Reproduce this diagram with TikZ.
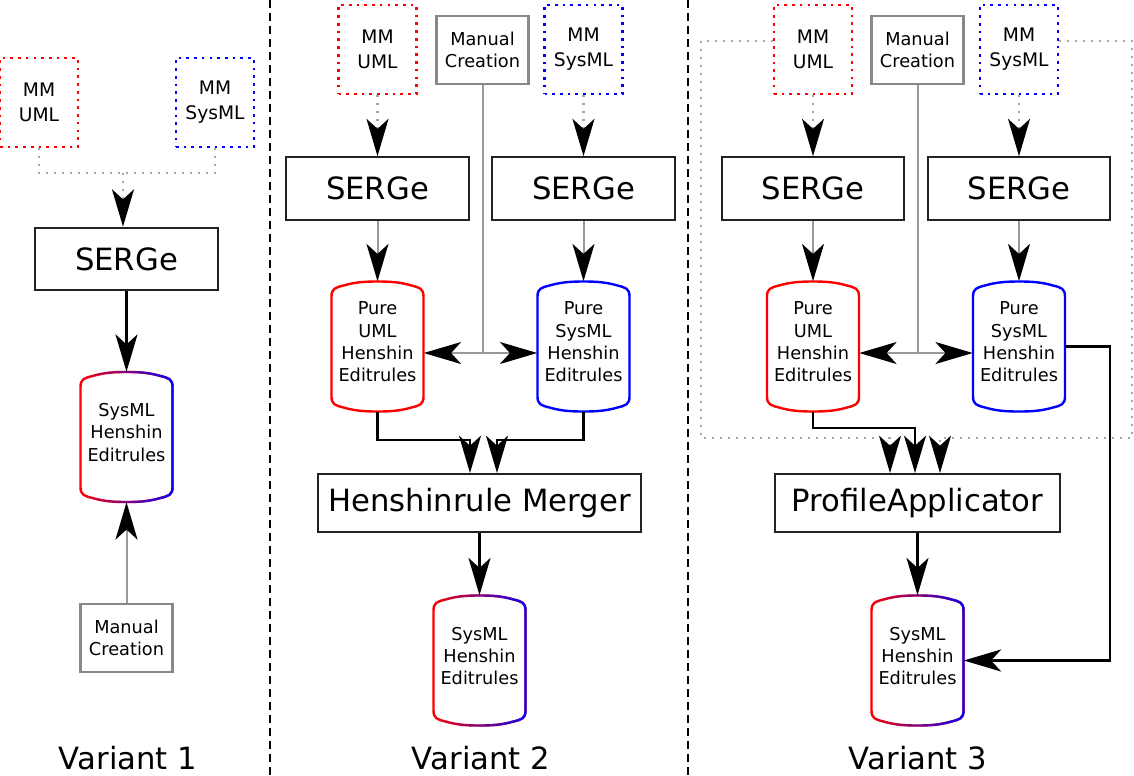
\documentclass[tikz,border=0pt]{standalone}
\usepackage{fontspec}
\setmainfont{DejaVu Sans}
\usetikzlibrary{arrows.meta,fadings}
\definecolor{lgray}{RGB}{153,153,153}
\definecolor{dotgray}{RGB}{165,165,165}
\definecolor{mgray}{RGB}{136,136,136}
\definecolor{boxline}{RGB}{34,34,34}
\tikzfading[name=fadetoeast, left color=transparent!100, right color=transparent!0]

\begin{document}
\begin{tikzpicture}[x=0.75pt, y=-0.75pt,
    mmbox/.style={draw, line width=2pt, dash pattern=on 2pt off 3.8pt, minimum width=58.5pt,
                  minimum height=66.75pt, align=center, font=\fontsize{14}{18.75}\selectfont},
    manual/.style={draw=mgray, line width=1.6pt, minimum width=69pt, minimum height=51pt,
                   align=center, font=\fontsize{13.3}{16.5}\selectfont},
    tool/.style={draw=boxline, line width=1.5pt, minimum width=137pt, minimum height=47pt,
                 font=\fontsize{23}{27}\selectfont},
    store/.style={minimum width=69pt, minimum height=97.5pt, inner sep=0pt, align=center,
                  text depth=7pt, font=\fontsize{13.3}{16.7}\selectfont},
    variant/.style={font=\fontsize{23}{27}\selectfont},
    arr/.style={-{Stealth[length=28pt, width=16.5pt, inset=7.5pt, color=black]}},
    bline/.style={line width=1.8pt, black},
    gline/.style={line width=1.5pt, lgray},
    dline/.style={line width=1.6pt, dotgray, dash pattern=on 1.6pt off 4.4pt},
    pics/storeline/.style={code={
        \draw[line width=1.8pt, #1] (-46,50) -- (-46,-50)
          .. controls (-46,-58) and (-42,-59) .. (-34,-61) .. controls (-22,-64.5) and (-12,-65) .. (0,-65)
          .. controls (12,-65) and (22,-64.5) .. (34,-61) .. controls (42,-59) and (46,-58) .. (46,-50)
          -- (46,50)
          .. controls (46,58) and (42,59) .. (34,61) .. controls (22,64.5) and (12,65) .. (0,65)
          .. controls (-12,65) and (-22,64.5) .. (-34,61) .. controls (-42,59) and (-46,58) .. (-46,50) -- cycle;
    }}
]
\useasboundingbox (0,0) rectangle (1134,775);

% dividers
\draw[line width=1.5pt, dash pattern=on 6pt off 3.75pt] (270,0) -- (270,775);
\draw[line width=1.5pt, dash pattern=on 6pt off 3.75pt] (688,0) -- (688,775);

% Variant 1
\node[mmbox, draw=red] (mu1) at (39,102.5) {MM\\UML};
\node[mmbox, draw=blue] (ms1) at (215,102.5) {MM\\SysML};
\node[tool] (se1) at (126.5,259) {SERGe};
\node[store] (sy1) at (126.5,437) {SysML\\Henshin\\Editrules};
\node[manual] (mc1) at (126.5,638) {Manual\\Creation};
\node[variant] (v1) at (128,758) {Variant 1};
\coordinate (j1) at (123,173);
\pic at (sy1) {storeline=red};
\pic at (sy1) {storeline={blue, path fading=fadetoeast}};

\draw[dline] (mu1.south) |- (j1) -| (ms1.south);
\draw[dline, arr] (j1) -- (j1 |- se1.north);
\draw[bline, arr] (se1) -- (sy1);
\draw[gline, arr] (mc1) -- (sy1);

% Variant 2
\node[mmbox, draw=red] (mu2) at (377.5,49.5) {MM\\UML};
\node[manual] (mc2) at (482.5,50) {Manual\\Creation};
\node[mmbox, draw=blue] (ms2) at (583.5,49.5) {MM\\SysML};
\node[tool] (se2a) at (377.5,188.5) {SERGe};
\node[tool] (se2b) at (583.5,188.5) {SERGe};
\node[store] (pu2) at (377.5,346.5) {Pure\\UML\\Henshin\\Editrules};
\node[store] (ps2) at (583.5,346.5) {Pure\\SysML\\Henshin\\Editrules};
\node[tool, minimum width=242pt, minimum height=43.5pt] (me2) at (479.5,503) {Henshinrule Merger};
\node[store] (sy2) at (479.5,660.5) {SysML\\Henshin\\Editrules};
\node[variant] (v2) at (481,758) {Variant 2};
\coordinate (j2) at (482.5,353);
\pic at (pu2) {storeline=red};
\pic at (ps2) {storeline=blue};
\pic at (sy2) {storeline=red};
\pic at (sy2) {storeline={blue, path fading=fadetoeast}};

\draw[dline, arr] (mu2) -- (se2a);
\draw[dline, arr] (ms2) -- (se2b);
\draw[gline, arr] (se2a) -- (pu2);
\draw[gline, arr] (se2b) -- (ps2);
\draw[gline] (mc2) -- (j2);
\draw[gline, arr] (j2) -- (j2 -| pu2.east);
\draw[gline, arr] (j2) -- (j2 -| ps2.west);
\draw[bline, arr] (pu2.south) -- ++(0,28) -| (me2.north -| 470,0);
\draw[bline, arr] (ps2.south) -- ++(0,28) -| (me2.north -| 497,0);
\draw[bline, arr] (me2) -- (sy2);

% Variant 3
\node[mmbox, draw=red] (mu3) at (813,49.5) {MM\\UML};
\node[manual] (mc3) at (917.5,50) {Manual\\Creation};
\node[mmbox, draw=blue] (ms3) at (1019,49.5) {MM\\SysML};
\node[tool] (se3a) at (813,188.5) {SERGe};
\node[tool] (se3b) at (1019,188.5) {SERGe};
\node[store] (pu3) at (813,346.5) {Pure\\UML\\Henshin\\Editrules};
\node[store] (ps3) at (1019,346.5) {Pure\\SysML\\Henshin\\Editrules};
\node[tool, minimum width=214pt, minimum height=43.5pt] (pa3) at (917.5,503) {ProfileApplicator};
\node[store] (sy3) at (917.5,660.5) {SysML\\Henshin\\Editrules};
\node[variant] (v3) at (918,758) {Variant 3};
\coordinate (j3) at (917.5,353);
\pic at (pu3) {storeline=red};
\pic at (ps3) {storeline=blue};
\pic at (sy3) {storeline=red};
\pic at (sy3) {storeline={blue, path fading=fadetoeast}};

\draw[dline, arr] (mu3) -- (se3a);
\draw[dline, arr] (ms3) -- (se3b);
\draw[gline, arr] (se3a) -- (pu3);
\draw[gline, arr] (se3b) -- (ps3);
\draw[gline] (mc3) -- (j3);
\draw[gline, arr] (j3) -- (j3 -| pu3.east);
\draw[gline, arr] (j3) -- (j3 -| ps3.west);
\draw[dline, arr] (mu3.west |- 0,41) -| (701,438) -| (pa3.north -| 890,0);
\draw[dline, arr] (ms3.east |- 0,41) -| (1132,438) -| (pa3.north -| 940,0);
\draw[bline, arr] (pu3.south) -- ++(0,16) -| (pa3.north -| 915,0);
\draw[bline, arr] (ps3.east) -- ++(45,0) |- (sy3.east);
\draw[bline, arr] (pa3) -- (sy3);
\end{tikzpicture}
\end{document}
